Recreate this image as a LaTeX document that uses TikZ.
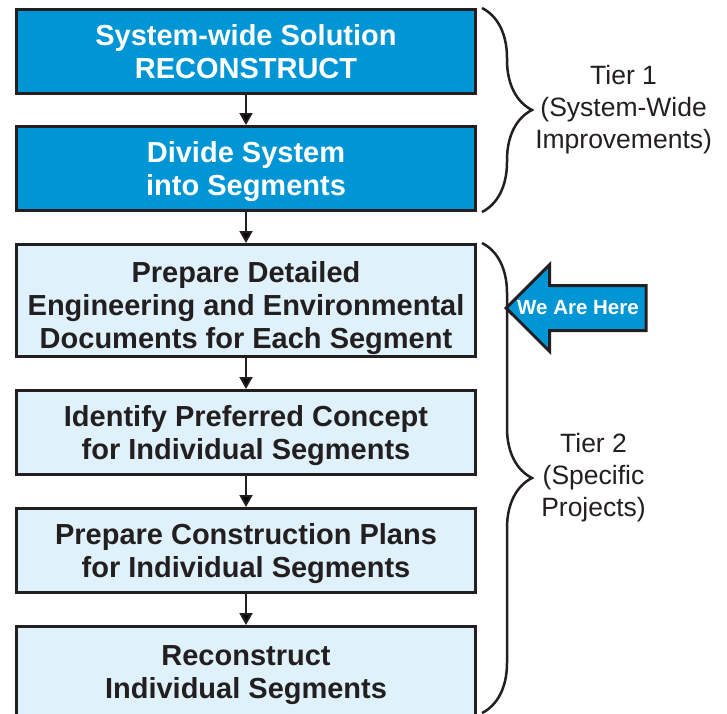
\documentclass[tikz,border=0pt]{standalone}
\usepackage{fontspec}
\newfontfamily\arialfont{Liberation Sans}
\usetikzlibrary{calc}
\usetikzlibrary{arrows.meta,positioning,shapes.arrows,decorations.pathreplacing}
\definecolor{sysblue}{RGB}{0,150,214}
\definecolor{segblue}{RGB}{223,241,251}
\definecolor{inkgray}{RGB}{35,31,32}

\begin{document}
\begin{tikzpicture}[x=1pt,y=1pt,>={Triangle[width=13pt,length=12pt]}]
        \tikzset{block/.style= {draw=inkgray, line width=3pt, rectangle, align=center,minimum width=459pt,minimum height=84pt,
                text depth=0pt, font=\arialfont\bfseries\fontsize{29}{33}\selectfont},
        sblock/.style= {block, fill=sysblue, text=white},
        pblock/.style= {block, fill=segblue, text=inkgray},
        link/.style={draw=inkgray, line width=2pt, ->},
        tier/.style={align=center, text=inkgray, inner sep=0pt, font=\arialfont\fontsize{26.5}{32}\selectfont},
        brc/.style={draw=inkgray, line width=2.5pt, decorate, decoration={brace, amplitude=50pt}},
        here/.style={ % requires library shapes.arrows
        draw=inkgray,
        fill=sysblue,
        line width=3pt,
        single arrow,
        shape border rotate=180,
        single arrow head extend=21pt,
        inner xsep=0pt,
        inner ysep=21pt,
        minimum height=140pt
    },
        heretext/.style={text=white, inner sep=0pt, font=\arialfont\bfseries\fontsize{20.5}{24}\selectfont},
        }
        \useasboundingbox (0,0) rectangle (727,-713);
        \node [sblock] (solution) at (246,-51.5) {System-wide Solution\\RECONSTRUCT};
        \node [sblock, below=30pt of solution] (divide) {Divide System\\into Segments};
        \node [pblock, below=31pt of divide, minimum height=112pt, text height=96pt] (prepare) {Prepare Detailed\\Engineering and Environmental\\Documents for Each Segment};
        \node [pblock, below=31pt of prepare] (identify) {Identify Preferred Concept\\for Individual Segments};
        \node [pblock, below=31pt of identify] (plans) {Prepare Construction Plans\\for Individual Segments};
        \node [pblock, below=31pt of plans, minimum height=91pt] (rebuild) {Reconstruct\\Individual Segments};
        \node [here, anchor=tip] (herearrow) at ($(prepare.east)+(27pt,-7.5pt)$) {};
        \node [heretext] (herelabel) at ($(herearrow.tip)+(74pt,0)$) {We Are Here};
%%% braces
        \coordinate (t1top) at ($(solution.north east)+(5pt,0)$);
        \coordinate (t1bot) at ($(divide.south east)+(5pt,0)$);
        \coordinate (t2top) at ($(prepare.north east)+(5pt,0)$);
        \coordinate (t2bot) at ($(rebuild.south east)+(5pt,6pt)$);
        \draw[brc] (t1top) -- node[tier, right=52pt] (tierone) {Tier 1\\(System-Wide\\Improvements)} (t1bot);
        \draw[brc] (t2top) -- node[tier, right=58pt] (tiertwo) {Tier 2\\(Specific\\Projects)} (t2bot);
%%% paths
        \path[link] (solution) edge (divide)
                    (divide) edge (prepare)
                    (prepare) edge (identify)
                    (identify) edge (plans)
                    (plans) edge (rebuild)
                    ;
    \end{tikzpicture}
\end{document}
